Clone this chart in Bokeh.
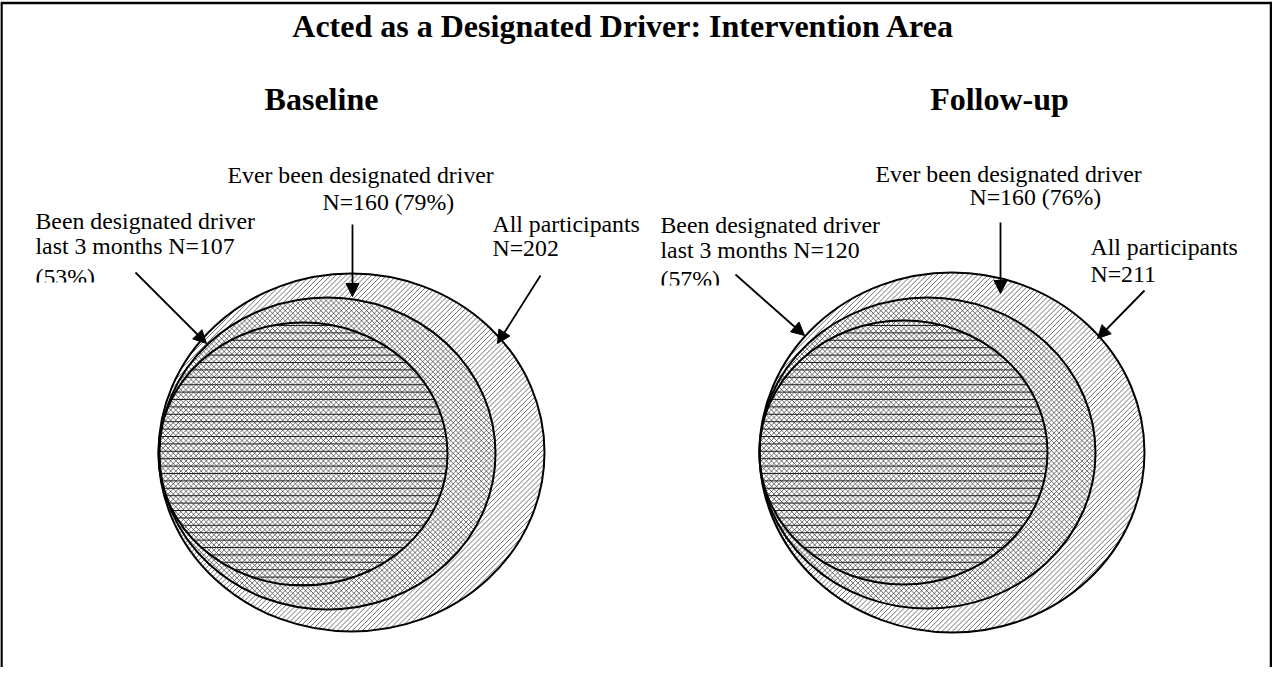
import math
from bokeh.plotting import figure
from bokeh.models import Range1d, Arrow, NormalHead
from bokeh.core.properties import value
from bokeh.embed import file_html
from bokeh.resources import INLINE

# ---------------- data ----------------
title = "Acted as a Designated Driver: Intervention Area"
panels = ["Baseline", "Follow-up"]
groups = ["All participants", "Ever been designated driver",
          "Been designated driver last 3 months"]
baseline_n = [202, 160, 107]
baseline_pct = [None, 79, 53]
followup_n = [211, 160, 120]
followup_pct = [None, 76, 57]

# ---------------- layout (page pixel coordinates) ----------------
FONT = value("Liberation Serif")
TDY = 10  # text baseline correction
p = figure(width=1272, height=667, x_range=Range1d(8, 1280), y_range=Range1d(675, 8),
           output_backend="svg", toolbar_location=None, min_border=0)
p.axis.visible = False
p.grid.visible = False
p.outline_line_color = None
p.background_fill_color = "white"
p.border_fill_color = "white"

# frame box (open at the bottom)
p.segment(x0=[9, 8, 1278.5], y0=[10.5, 10.5, 10.5], x1=[9, 1280, 1278.5], y1=[675, 10.5, 675],
          line_color="black", line_width=2.5)

p.text(x=[631], y=[43 - TDY], text=[title], text_font=FONT, text_font_size="32px",
       text_font_style="bold", text_align="center", text_baseline="alphabetic", text_color="black")

layout = {
    "Baseline": dict(
        title=(329, 116),
        ell=[(359, 460, 386, 358), (335, 461, 336, 312), (310.5, 461.5, 289, 263)],
        ever_lines=[(235, 192), (330, 219)],
        all_lines=[(500, 241), (500, 265)],
        last_lines=[(43, 238), (43, 263), (43, 294)],
        clip=(38, 112, 290, 306),
        arrows=[(548, 283, 505, 351), (360, 232, 360, 304), (143, 280, 214, 351)],
    ),
    "Follow-up": dict(
        title=(1007, 116),
        ell=[(959.5, 460, 385, 360), (935, 460.5, 336, 311), (911, 460, 288, 264)],
        ever_lines=[(883, 191), (977, 214)],
        all_lines=[(1098, 264), (1098, 291)],
        last_lines=[(668, 242), (668, 267), (668, 296)],
        clip=(662, 736, 293, 308),
        arrows=[(1152, 298, 1105, 346), (1008, 230, 1008, 301), (743, 282, 812, 343)],
    ),
}
data = {"Baseline": (baseline_n, baseline_pct), "Follow-up": (followup_n, followup_pct)}

# hatch families: (direction angle in degrees, spacing px, line width, colour)
hatch_styles = [(-45, 3.6, 0.75, "#444444"), (45, 3.6, 0.75, "#444444"), (0, 7.4, 1.0, "#222222")]


def hatch_segments(cx, cy, w, h, ang, spacing):
    a, b = w / 2.0, h / 2.0
    dx, dy = math.cos(math.radians(ang)), math.sin(math.radians(ang))
    nx, ny = -dy, dx
    ext = math.sqrt((a * nx) ** 2 + (b * ny) ** 2)
    base = cx * nx + cy * ny
    k0 = math.ceil((base - ext) / spacing)
    k1 = math.floor((base + ext) / spacing)
    xs0, ys0, xs1, ys1 = [], [], [], []
    for k in range(k0, k1 + 1):
        s = k * spacing - base
        A = dx * dx / a ** 2 + dy * dy / b ** 2
        B = 2 * (s * nx * dx / a ** 2 + s * ny * dy / b ** 2)
        C = (s * nx) ** 2 / a ** 2 + (s * ny) ** 2 / b ** 2 - 1
        disc = B * B - 4 * A * C
        if disc <= 0:
            continue
        r = math.sqrt(disc)
        t0, t1 = (-B - r) / (2 * A), (-B + r) / (2 * A)
        px, py = cx + s * nx, cy + s * ny
        xs0.append(px + t0 * dx); ys0.append(py + t0 * dy)
        xs1.append(px + t1 * dx); ys1.append(py + t1 * dy)
    return xs0, ys0, xs1, ys1


for panel in panels:
    L = layout[panel]
    n, pct = data[panel]
    p.text(x=[L["title"][0]], y=[L["title"][1] - TDY], text=[panel], text_font=FONT,
           text_font_size="32px", text_font_style="bold", text_align="center",
           text_baseline="alphabetic", text_color="black")
    cx, cy, w, h = L["ell"][0]
    p.ellipse(x=[cx], y=[cy], width=[w], height=[h], fill_color="white", line_color=None)
    for (cx, cy, w, h), (ang, sp, lw, col) in zip(L["ell"], hatch_styles):
        x0, y0, x1, y1 = hatch_segments(cx, cy, w, h, ang, sp)
        p.segment(x0=x0, y0=y0, x1=x1, y1=y1, line_color=col, line_width=lw)
    for (cx, cy, w, h) in L["ell"]:
        p.ellipse(x=[cx], y=[cy], width=[w], height=[h], fill_color=None,
                  line_color="black", line_width=2)
    texts = {
        "ever": [groups[1], f"N={n[1]} ({pct[1]}%)"],
        "all": [groups[0], f"N={n[0]}"],
        "last": ["Been designated driver", f"last 3 months N={n[2]}", f"({pct[2]}%)"],
    }
    for key, lines in (("ever", L["ever_lines"]), ("all", L["all_lines"]), ("last", L["last_lines"])):
        p.text(x=[c[0] for c in lines], y=[c[1] - TDY for c in lines], text=texts[key],
               text_font=FONT, text_font_size="23.8px", text_align="left",
               text_baseline="alphabetic", text_color="black")
    l, r, t, b = L["clip"]
    p.quad(left=[l], right=[r], top=[t], bottom=[b], fill_color="white", line_color=None)
    for (x0, y0, x1, y1) in L["arrows"]:
        p.add_layout(Arrow(end=NormalHead(size=13, fill_color="black", line_color="black", line_width=1),
                           x_start=x0, y_start=y0, x_end=x1, y_end=y1,
                           line_color="black", line_width=1.8))

open("out.html", "w").write(file_html(p, INLINE))
